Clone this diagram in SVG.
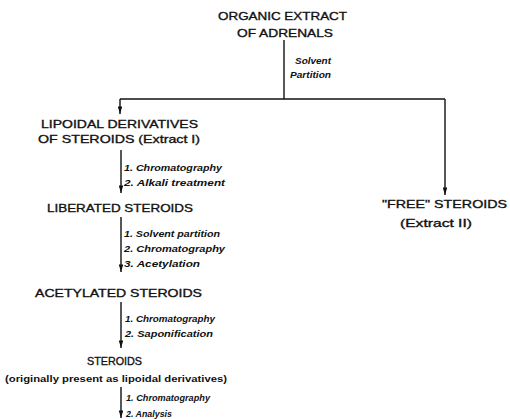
<svg xmlns="http://www.w3.org/2000/svg" width="510" height="419" viewBox="0 0 510 419">
<style>
.h{font-family:"Liberation Sans",Arial,sans-serif;font-size:11.5px;fill:#111;stroke:#111;stroke-width:0.35;}
.l{font-family:"Liberation Sans",Arial,sans-serif;font-size:9.5px;font-weight:bold;font-style:italic;fill:#111;}
.s{font-family:"Liberation Sans",Arial,sans-serif;font-size:9px;font-weight:bold;fill:#111;}
.c{stroke:#111;stroke-width:1.4;fill:none;}
</style>
<defs>
<marker id="ah" viewBox="0 0 10 6" refX="10" refY="3" markerWidth="8" markerHeight="4.5" markerUnits="userSpaceOnUse" orient="auto">
<path d="M0,0 L10,3 L0,6 Z" fill="#111"/>
</marker>
</defs>
<rect width="510" height="419" fill="#fff"/>
<g id="connectors">
<path class="c" d="M284,40 V99"/>
<path class="c" d="M120,99 H445"/>
<path class="c" d="M120,99 V114" marker-end="url(#ah)"/>
<path class="c" d="M445,99 V195" marker-end="url(#ah)"/>
<path class="c" d="M121,150 V193" marker-end="url(#ah)"/>
<path class="c" d="M121,217 V272" marker-end="url(#ah)"/>
<path class="c" d="M121,302 V348" marker-end="url(#ah)"/>
<path class="c" d="M121,387 V418" marker-end="url(#ah)"/>
<text class="l" x="295" y="64" textLength="36" lengthAdjust="spacingAndGlyphs">Solvent</text>
<text class="l" x="290" y="78" textLength="41" lengthAdjust="spacingAndGlyphs">Partition</text>
<text class="l" x="124" y="171" textLength="98" lengthAdjust="spacingAndGlyphs">1. Chromatography</text>
<text class="l" x="124" y="186" textLength="101" lengthAdjust="spacingAndGlyphs">2. Alkali treatment</text>
<text class="l" x="124" y="237" textLength="96" lengthAdjust="spacingAndGlyphs">1. Solvent partition</text>
<text class="l" x="124" y="252" textLength="101" lengthAdjust="spacingAndGlyphs">2. Chromatography</text>
<text class="l" x="124" y="267" textLength="76" lengthAdjust="spacingAndGlyphs">3. Acetylation</text>
<text class="l" x="125" y="322" textLength="90" lengthAdjust="spacingAndGlyphs">1. Chromatography</text>
<text class="l" x="125" y="337" textLength="88" lengthAdjust="spacingAndGlyphs">2. Saponification</text>
<text class="l" x="126" y="401" textLength="84" lengthAdjust="spacingAndGlyphs">1. Chromatography</text>
<text class="l" x="126" y="417" textLength="46" lengthAdjust="spacingAndGlyphs">2. Analysis</text>
</g>
<g id="organic-extract">
<text class="h" x="218" y="20" textLength="129" lengthAdjust="spacingAndGlyphs">ORGANIC EXTRACT</text>
<text class="h" x="237" y="37" textLength="96" lengthAdjust="spacingAndGlyphs">OF ADRENALS</text>
</g>
<g id="lipoidal-derivatives">
<text class="h" x="41" y="128" textLength="157" lengthAdjust="spacingAndGlyphs">LIPOIDAL DERIVATIVES</text>
<text class="h" x="38" y="143" textLength="162" lengthAdjust="spacingAndGlyphs">OF STEROIDS (Extract I)</text>
</g>
<g id="free-steroids">
<text class="h" x="382" y="208" textLength="125" lengthAdjust="spacingAndGlyphs">"FREE" STEROIDS</text>
<text class="h" x="400" y="227" textLength="72" lengthAdjust="spacingAndGlyphs">(Extract II)</text>
</g>
<g id="liberated-steroids">
<text class="h" x="47" y="212" textLength="146" lengthAdjust="spacingAndGlyphs">LIBERATED STEROIDS</text>
</g>
<g id="acetylated-steroids">
<text class="h" x="35" y="297" textLength="167" lengthAdjust="spacingAndGlyphs">ACETYLATED STEROIDS</text>
</g>
<g id="steroids">
<text class="h" x="87" y="365" textLength="55" lengthAdjust="spacingAndGlyphs">STEROIDS</text>
<text class="s" x="5" y="382" textLength="222" lengthAdjust="spacingAndGlyphs">(originally present as lipoidal derivatives)</text>
</g>
</svg>
